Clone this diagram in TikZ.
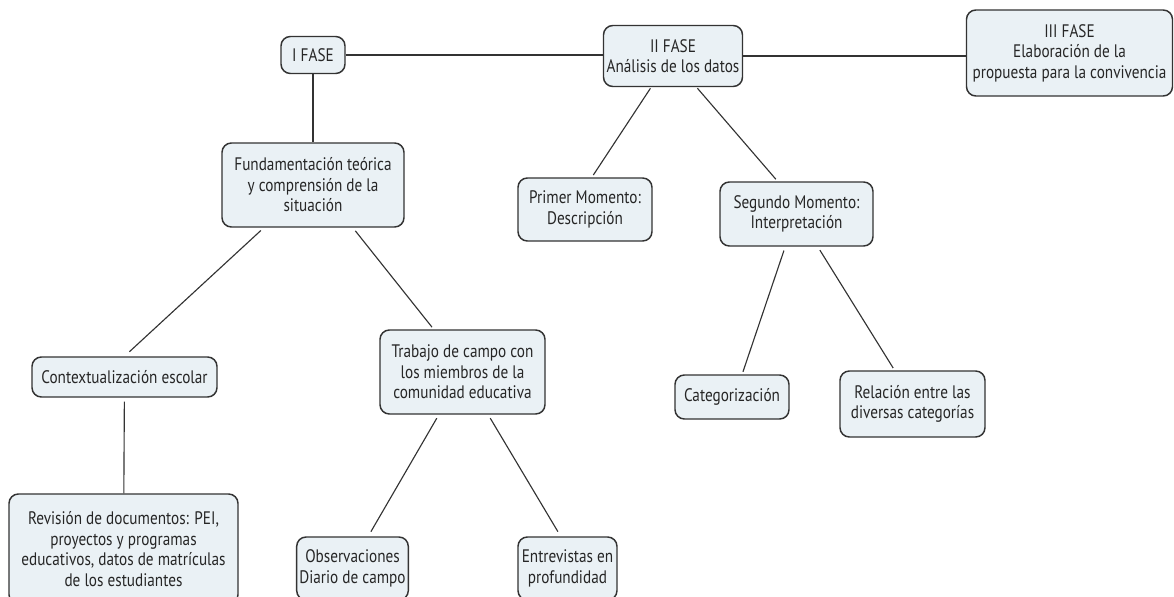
\documentclass[tikz,border=0pt]{standalone}
\usepackage{fontspec}
\setmainfont{PT Sans}[FakeStretch=0.84]
\definecolor{boxfill}{HTML}{EAF1F5}
\definecolor{boxline}{HTML}{333333}
\newdimen\px \px=0.75pt
\tikzset{
  concept/.style={draw=boxline,fill=boxfill,rounded corners=7pt,line width=1.1pt,
    align=center,inner sep=2pt,text=black!85,font=\fontsize{13.6}{15.4}\selectfont},
  link/.style={draw=boxline,line width=0.85pt}
}
\begin{document}
\begin{tikzpicture}[x=0.75pt,y=-0.75pt]
  \useasboundingbox (0,0) rectangle (1174,596);

  % fases
  \node[concept,minimum width=64\px,minimum height=37\px] (ifase) at (313,55) {I FASE};
  \node[concept,minimum width=139\px,minimum height=61\px] (iifase) at (673,56) {II FASE\\An\'alisis de los datos};
  \node[concept,minimum width=206\px,minimum height=86\px] (iiifase) at (1069.5,53) {III FASE\\Elaboraci\'on de la\\propuesta para la convivencia};

  % I fase
  \node[concept,minimum width=182\px,minimum height=84\px] (fund) at (313,185) {Fundamentaci\'on te\'orica\\y comprensi\'on de la\\situaci\'on};
  \node[concept,minimum width=185\px,minimum height=40\px] (context) at (124.5,377) {Contextualizaci\'on escolar};
  \node[concept,minimum width=165\px,minimum height=84\px] (trabajo) at (462.5,372) {Trabajo de campo con\\los miembros de la\\comunidad educativa};
  \node[concept,minimum width=229\px,minimum height=110\px] (revision) at (123.5,549) {Revisi\'on de documentos: PEI,\\proyectos y programas\\educativos, datos de matr\'iculas\\de los estudiantes};
  \node[concept,minimum width=99\px,minimum height=63\px] (observ) at (352.5,568.5) {Observaciones\\Diario de campo};
  \node[concept,minimum width=99\px,minimum height=63\px] (entrev) at (567.5,568.5) {Entrevistas en\\profundidad};

  % II fase
  \node[concept,minimum width=134\px,minimum height=63\px] (primer) at (585,209.5) {Primer Momento:\\Descripci\'on};
  \node[concept,minimum width=153\px,minimum height=64\px] (segundo) at (796.5,214) {Segundo Momento:\\Interpretaci\'on};
  \node[concept,minimum width=114\px,minimum height=44\px] (categ) at (732,397) {Categorizaci\'on};
  \node[concept,minimum width=145\px,minimum height=66\px] (relacion) at (912.5,404) {Relaci\'on entre las\\diversas categor\'ias};

  \draw[link] (ifase.east) -- (iifase.west |- ifase.east);
  \draw[link] (iifase.east) -- (iifase.east -| iiifase.west);
  \draw[link] (ifase) -- (fund);
  \draw[link,shorten <=3pt,shorten >=5pt] (fund.221) -- (context.north);
  \draw[link,shorten <=3pt,shorten >=2pt] (fund.313) -- (trabajo.124);
  \draw[link,shorten <=3pt] (context) -- (revision);
  \draw[link,shorten <=3pt,shorten >=4pt] (trabajo.241) -- (observ.64);
  \draw[link,shorten <=3pt,shorten >=4pt] (trabajo.301) -- (entrev.102);
  \draw[link,shorten <=1pt,shorten >=2pt] (iifase.235) -- (primer.78);
  \draw[link,shorten <=1pt,shorten >=2pt] (iifase.307) -- (segundo.120);
  \draw[link,shorten <=3pt,shorten >=2pt] (segundo.251) -- (categ.66);
  \draw[link,shorten <=3pt,shorten >=2pt] (segundo.303) -- (relacion.118);
\end{tikzpicture}
\end{document}
